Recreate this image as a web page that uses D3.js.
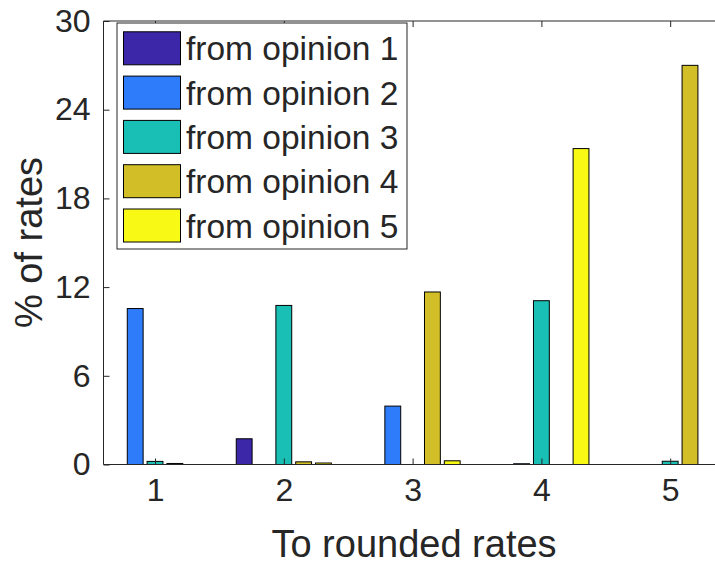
<!DOCTYPE html>
<html>
<head>
<meta charset="utf-8">
<script src="https://cdn.jsdelivr.net/npm/d3@7"></script>
<style>
  html, body { margin: 0; padding: 0; background: #fff; }
  svg { display: block; }
  text { font-family: "Liberation Sans", Arial, Helvetica, sans-serif; fill: #262626; }
</style>
</head>
<body>
<script>
// ---- data ----
const categories = [1, 2, 3, 4, 5];
const seriesNames = ["from opinion 1", "from opinion 2", "from opinion 3", "from opinion 4", "from opinion 5"];
const seriesColors = ["#3b27a8", "#2e7cfa", "#19bfb5", "#d2be27", "#f8f914"];
const fromOpinion1 = [0, 1.74, 0, 0, 0];
const fromOpinion2 = [10.55, 0, 3.95, 0.05, 0];
const fromOpinion3 = [0.21, 10.76, 0, 11.08, 0.22];
const fromOpinion4 = [0.07, 0.18, 11.67, 0, 27.0];
const fromOpinion5 = [0, 0.1, 0.25, 21.37, 0];
const seriesValues = [fromOpinion1, fromOpinion2, fromOpinion3, fromOpinion4, fromOpinion5];
const yTicks = [0, 6, 12, 18, 24, 30];
const xLabel = "To rounded rates";
const yLabel = "% of rates";

const W = 715, H = 565;
const svg = d3.select("body").append("svg").attr("width", W).attr("height", H);

const x = d3.scaleLinear().domain([0.6, 5.4]).range([103.5, 721.7]);
const y = d3.scaleLinear().domain([0, 30]).range([464.5, 21]);

const nS = seriesValues.length;
const groupW = Math.min(0.8, nS / (nS + 1.5));
const slot = groupW / nS;
const barW = slot * 0.8;

// bars
seriesValues.forEach((vals, si) => {
  const off = (si - (nS - 1) / 2) * slot;
  svg.append("g").selectAll("rect").data(vals.map((v, i) => ({v, c: categories[i]})))
    .join("rect")
    .attr("x", d => x(d.c + off - barW / 2))
    .attr("width", d => x(d.c + off + barW / 2) - x(d.c + off - barW / 2))
    .attr("y", d => y(d.v))
    .attr("height", d => y(0) - y(d.v))
    .attr("fill", seriesColors[si])
    .attr("stroke", "#000")
    .attr("stroke-width", 1)
    .attr("display", d => d.v > 0 ? null : "none");
});

// axes
const axisColor = "#262626";
const tickFont = 32;
const xAxis = d3.axisBottom(x).tickValues(categories).tickSize(-6).tickPadding(14).tickFormat(d3.format("d"));
const gx = svg.append("g").attr("transform", `translate(0,${y(0)})`).call(xAxis);
const yAxis = d3.axisLeft(y).tickValues(yTicks).tickSize(-6).tickPadding(13);
const gy = svg.append("g").attr("transform", `translate(${x(0.6)},0)`).call(yAxis);
// top axis (box)
const xTop = d3.axisTop(x).tickValues(categories).tickSize(-6).tickFormat("");
const gt = svg.append("g").attr("transform", `translate(0,${y(30)})`).call(xTop);

[gx, gy, gt].forEach(g => {
  g.select(".domain").attr("stroke", axisColor).attr("stroke-width", 1);
  g.selectAll(".tick line").attr("stroke", axisColor);
  g.selectAll(".tick text").attr("fill", axisColor)
    .style("font-size", tickFont + "px")
    .style("font-family", '"Liberation Sans", Arial, Helvetica, sans-serif');
});
gx.select(".domain").attr("d", `M${x(0.6)},0H${x(5.4)}`);
gt.select(".domain").attr("d", `M${x(0.6)},0H${x(5.4)}`);
gy.select(".domain").attr("d", `M0,${y(0)}V${y(30)}`);

// axis labels
svg.append("text").attr("x", 414).attr("y", 557).attr("text-anchor", "middle")
  .style("font-size", "38px").text(xLabel);
svg.append("text").attr("transform", "translate(42,242.5) rotate(-90)").attr("text-anchor", "middle")
  .style("font-size", "38px").text(yLabel);

// legend
const lg = svg.append("g");
lg.append("rect").attr("x", 117).attr("y", 23).attr("width", 290).attr("height", 226)
  .attr("fill", "#fff").attr("stroke", axisColor).attr("stroke-width", 1);
const rowPitch = 44.3;
seriesNames.forEach((name, i) => {
  const cy = 48.3 + i * rowPitch;
  lg.append("rect").attr("x", 123.5).attr("y", cy - 16.5).attr("width", 57).attr("height", 33)
    .attr("fill", seriesColors[i]).attr("stroke", "#000").attr("stroke-width", 1);
  lg.append("text").attr("x", 186).attr("y", cy + 12).style("font-size", "33.5px").attr("fill", "#000").text(name);
});
</script>
</body>
</html>
